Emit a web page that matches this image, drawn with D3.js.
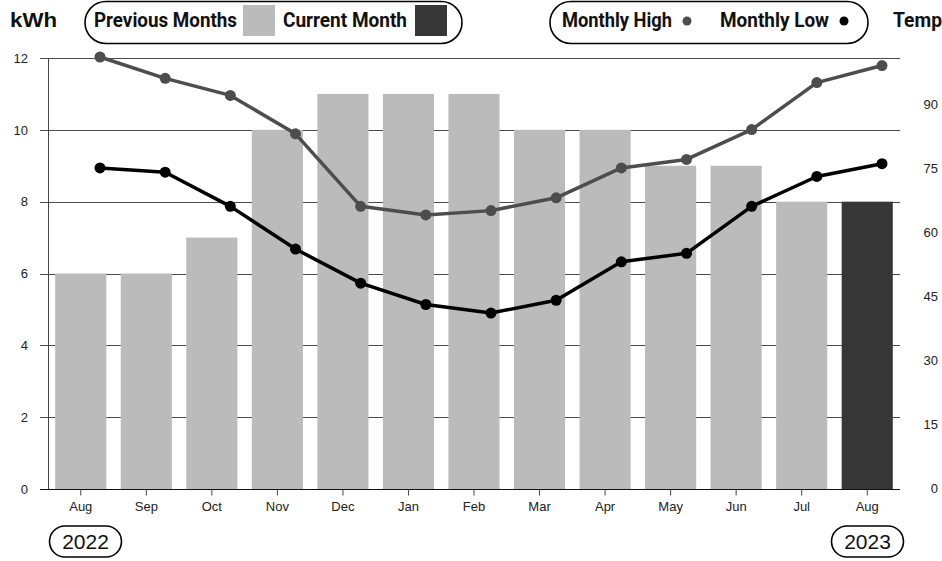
<!DOCTYPE html>
<html>
<head>
<meta charset="utf-8">
<script src="https://cdn.jsdelivr.net/npm/d3@7/dist/d3.min.js"></script>
<style>
  html, body { margin: 0; padding: 0; background: #fff; }
  svg { display: block; }
</style>
</head>
<body>
<svg id="chart" width="942" height="561"></svg>
<script>
// Monthly energy use (kWh) with monthly temperature high / low
const months = ["Aug", "Sep", "Oct", "Nov", "Dec", "Jan", "Feb", "Mar", "Apr", "May", "Jun", "Jul", "Aug"];
const usage = [6, 6, 7, 10, 11, 11, 11, 10, 10, 9, 9, 8, 8];
const tempHigh = [101, 96, 92, 83, 66, 64, 65, 68, 75, 77, 84, 95, 99];
const tempLow = [75, 74, 66, 56, 48, 43, 41, 44, 53, 55, 66, 73, 76];
const kwhTicks = [0, 2, 4, 6, 8, 10, 12];
const tempTicks = [0, 15, 30, 45, 60, 75, 90];
const years = ["2022", "2023"];

const svg = d3.select("#chart");
const idx = months.map((_, i) => i);
const current = months.length - 1;

const plotLeft = 48, plotRight = 900, plotTop = 58, plotBottom = 489;

const x = d3.scaleBand().domain(idx).range([plotLeft, plotRight]).paddingInner(0.22).paddingOuter(0.11);
const xp = d3.scalePoint().domain(idx).range([100, 882]);
const yL = d3.scaleLinear().domain([0, 12]).range([plotBottom, plotTop]);
const yR = d3.scaleLinear().domain([0, 101]).range([488, 57]);

const tickFont = "'Liberation Sans', Arial, sans-serif";
const headFont = "Roboto, 'Noto Sans', sans-serif";

// horizontal grid
svg.append("g")
  .selectAll("line")
  .data(kwhTicks)
  .join("line")
  .attr("x1", 40).attr("x2", plotRight)
  .attr("y1", d => Math.round(yL(d)) + 0.5).attr("y2", d => Math.round(yL(d)) + 0.5)
  .attr("stroke", d => d === 0 ? "#111" : "#4a4a4a")
  .attr("stroke-width", 1);

// bars
svg.append("g")
  .selectAll("rect")
  .data(usage)
  .join("rect")
  .attr("x", (d, i) => x(i))
  .attr("width", x.bandwidth())
  .attr("y", d => yL(d))
  .attr("height", d => yL(0) - yL(d))
  .attr("fill", (d, i) => i === current ? "#363636" : "#bbbbbb");

// left axis
const gL = svg.append("g")
  .attr("transform", `translate(${plotLeft},0)`)
  .call(d3.axisLeft(yL).tickValues(kwhTicks).tickSize(8).tickSizeOuter(0).tickPadding(12));
gL.select(".domain").attr("stroke", "#444").attr("d", `M0.5,${plotTop}V${plotBottom}`);
gL.selectAll(".tick line").remove();
gL.selectAll("text").attr("font-family", tickFont).attr("font-size", 13).attr("fill", "#222");

// right axis
const gR = svg.append("g")
  .attr("transform", `translate(938,0)`)
  .call(d3.axisLeft(yR).tickValues(tempTicks).tickSize(0).tickPadding(0));
gR.select(".domain").remove();
gR.selectAll("text").attr("font-family", tickFont).attr("font-size", 13).attr("fill", "#222");

// bottom axis
const gB = svg.append("g")
  .attr("transform", `translate(0,${plotBottom + 0.5})`)
  .call(d3.axisBottom(x).tickSize(6).tickSizeOuter(0).tickPadding(6).tickFormat(i => months[i]));
gB.select(".domain").remove();
gB.selectAll(".tick line").attr("stroke", "#444");
gB.selectAll("text").attr("font-family", tickFont).attr("font-size", 13).attr("fill", "#222");

// temperature lines
const series = [
  { values: tempHigh, color: "#4d4d4d" },
  { values: tempLow, color: "#000000" }
];
series.forEach(s => {
  svg.append("path")
    .datum(s.values)
    .attr("fill", "none")
    .attr("stroke", s.color)
    .attr("stroke-width", 3.5)
    .attr("stroke-linejoin", "round")
    .attr("d", d3.line().x((d, i) => xp(i)).y(d => yR(d)));
  svg.append("g")
    .selectAll("circle")
    .data(s.values)
    .join("circle")
    .attr("cx", (d, i) => xp(i))
    .attr("cy", d => yR(d))
    .attr("r", 5.5)
    .attr("fill", s.color);
});

// header labels and legends
function pill(x0, x1, y0, y1) {
  const h = y1 - y0;
  svg.append("rect")
    .attr("x", x0).attr("y", y0)
    .attr("width", x1 - x0).attr("height", h)
    .attr("rx", h / 2).attr("ry", h / 2)
    .attr("fill", "none").attr("stroke", "#000").attr("stroke-width", 1.6);
}
function headText(str, x0, w) {
  svg.append("text")
    .attr("x", x0).attr("y", 27)
    .attr("font-family", headFont).attr("font-weight", 700).attr("font-size", 19.5)
    .attr("textLength", w).attr("lengthAdjust", "spacingAndGlyphs")
    .attr("fill", "#111")
    .text(str);
}

svg.append("text")
  .attr("x", 10).attr("y", 27)
  .attr("font-family", tickFont).attr("font-weight", 700).attr("font-size", 20)
  .attr("textLength", 47).attr("lengthAdjust", "spacingAndGlyphs")
  .attr("fill", "#111")
  .text("kWh");

pill(85, 462, 1.5, 43.5);
headText("Previous Months", 94, 143);
svg.append("rect").attr("x", 243).attr("y", 5).attr("width", 32).attr("height", 31).attr("fill", "#bbbbbb");
headText("Current Month", 283, 124);
svg.append("rect").attr("x", 415).attr("y", 5).attr("width", 32).attr("height", 31).attr("fill", "#363636");

pill(550, 868, 1.5, 43.5);
headText("Monthly High", 562, 110);
svg.append("circle").attr("cx", 687).attr("cy", 21).attr("r", 4.5).attr("fill", "#4d4d4d");
headText("Monthly Low", 720, 109);
svg.append("circle").attr("cx", 844).attr("cy", 21).attr("r", 4.5).attr("fill", "#000");

headText("Temp", 893, 49);

// year markers under the first and last month
const yearPos = [85.5, 867.5];
years.forEach((yr, k) => {
  const cx = yearPos[k];
  pill(cx - 36, cx + 36, 526, 557);
  svg.append("text")
    .attr("x", cx).attr("y", 549)
    .attr("text-anchor", "middle")
    .attr("font-family", tickFont).attr("font-size", 21)
    .attr("fill", "#111")
    .text(yr);
});
</script>
</body>
</html>
